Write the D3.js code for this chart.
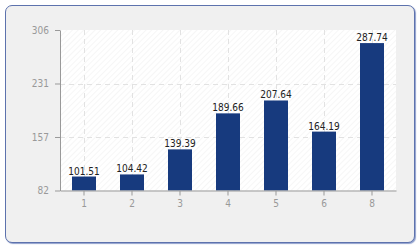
<!DOCTYPE html>
<html>
<head>
<meta charset="utf-8">
<script src="https://cdn.jsdelivr.net/npm/d3@7"></script>
<style>
    body { margin: 0; background: #ffffff; }
    #frame {
        position: absolute;
        left: 5px; top: 5px;
        width: 408px; height: 236px;
        background: #f0f0f0;
        border: 1px solid #5d72ad;
        border-radius: 7px;
        box-shadow: 1px 1px 1px #8f9fcc;
    }
    svg { position: absolute; left: 0; top: 0; }
</style>
</head>
<body>
<div id="frame"></div>
<div id="chart"></div>
<script>
// data
const categories = ['1', '2', '3', '4', '5', '6', '8'];
const values = [101.51, 104.42, 139.39, 189.66, 207.64, 164.19, 287.74];
const yMin = 82;
const yMax = 306;
const yTicks = [82, 156.67, 231.33, 306];

// dimensions
const w = 420;
const h = 250;
const pLeft = 60, pRight = 396, pTop = 30, pBottom = 190.5;

const x_scale = d3.scaleBand()
    .domain(categories)
    .range([pLeft, pRight])
    .paddingInner(0.5)
    .paddingOuter(0.25);

const y_scale = d3.scaleLinear()
    .domain([yMin, yMax])
    .range([pBottom, pTop]);

const svg = d3.select('#chart')
    .append('svg')
    .attr('width', w)
    .attr('height', h)
    .style('font-family', '"DejaVu Sans Condensed", "DejaVu Sans", sans-serif');

// hatch pattern for plot background
const pat = svg.append('defs')
    .append('pattern')
    .attr('id', 'hatch')
    .attr('patternUnits', 'userSpaceOnUse')
    .attr('width', 4)
    .attr('height', 4)
    .attr('patternTransform', 'rotate(45)');
pat.append('rect').attr('width', 4).attr('height', 4).attr('fill', '#ffffff');
pat.append('line')
    .attr('x1', 0).attr('y1', 0).attr('x2', 0).attr('y2', 4)
    .attr('stroke', '#f0f0f0').attr('stroke-width', 1.2);

svg.append('rect')
    .attr('x', pLeft)
    .attr('y', pTop)
    .attr('width', pRight - pLeft)
    .attr('height', pBottom - pTop)
    .attr('fill', 'url(#hatch)');

// gridlines
svg.append('g')
    .selectAll('line')
    .data(categories)
    .enter()
    .append('line')
    .attr('x1', d => x_scale(d) + x_scale.bandwidth() / 2 + 0.5)
    .attr('x2', d => x_scale(d) + x_scale.bandwidth() / 2 + 0.5)
    .attr('y1', pTop)
    .attr('y2', pBottom)
    .attr('stroke', '#e2e2e2')
    .attr('stroke-dasharray', '5,4');

svg.append('g')
    .selectAll('line')
    .data(yTicks.slice(1, 3))
    .enter()
    .append('line')
    .attr('x1', pLeft)
    .attr('x2', pRight)
    .attr('y1', d => Math.round(y_scale(d)) + 0.5)
    .attr('y2', d => Math.round(y_scale(d)) + 0.5)
    .attr('stroke', '#e2e2e2')
    .attr('stroke-dasharray', '5,4');

// bars
svg.selectAll('rect.bar')
    .data(values)
    .enter()
    .append('rect')
    .attr('class', 'bar')
    .attr('x', (d, i) => x_scale(categories[i]))
    .attr('y', d => y_scale(d))
    .attr('width', x_scale.bandwidth())
    .attr('height', d => pBottom - y_scale(d))
    .attr('fill', '#173a7e');

// value labels
svg.selectAll('text.val')
    .data(values)
    .enter()
    .append('text')
    .attr('class', 'val')
    .attr('x', (d, i) => x_scale(categories[i]) + x_scale.bandwidth() / 2)
    .attr('y', d => y_scale(d) - 2)
    .attr('text-anchor', 'middle')
    .attr('font-size', 10)
    .attr('fill', '#222')
    .text(d => d.toFixed(2));

// axes
const x_axis = d3.axisBottom(x_scale).tickSize(5).tickSizeOuter(0).tickPadding(4);
const y_axis = d3.axisLeft(y_scale)
    .tickValues(yTicks)
    .tickFormat(d => Math.round(d))
    .tickSize(5)
    .tickSizeOuter(0)
    .tickPadding(6);

const gx = svg.append('g')
    .attr('transform', `translate(0, ${pBottom})`)
    .call(x_axis);
const gy = svg.append('g')
    .attr('transform', `translate(${pLeft}, 0)`)
    .call(y_axis);

[gx, gy].forEach(g => {
    g.selectAll('path, line').attr('stroke', '#999');
    g.selectAll('text')
        .attr('fill', '#999')
        .attr('font-size', 10)
        .style('font-family', '"DejaVu Sans Condensed", "DejaVu Sans", sans-serif');
});
</script>
</body>
</html>
